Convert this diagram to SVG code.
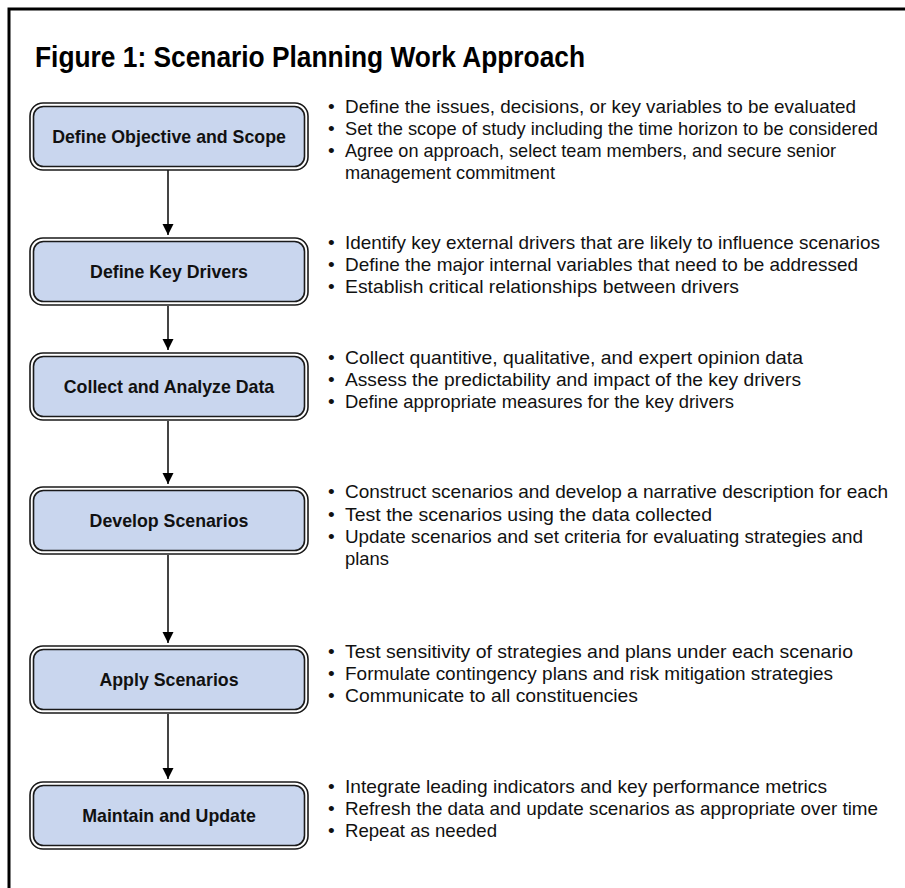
<svg xmlns="http://www.w3.org/2000/svg" width="905" height="888" viewBox="0 0 905 888">
<style>
.frame{fill:none;stroke:#000;stroke-width:3}
.title{font-family:"Liberation Sans","Arial",sans-serif;font-weight:bold;font-size:30px;fill:#000}
.bo{fill:#fff;stroke:#1a1a1a;stroke-width:1.6}
.bi{fill:#c9d6ee;stroke:#1a1a1a;stroke-width:1.6}
.lbl{font-family:"Liberation Sans","Arial",sans-serif;font-weight:bold;font-size:19px;fill:#111;text-anchor:middle}
.txt{font-family:"Liberation Sans","Arial",sans-serif;font-size:19px;fill:#111}
.conn{stroke:#444;stroke-width:2;fill:none}
</style>
<defs>
<marker id="ah" viewBox="0 0 10 10" refX="10" refY="5" markerWidth="5.5" markerHeight="6" markerUnits="strokeWidth" orient="auto"><path d="M0,0 L10,5 L0,10 z" fill="#000"/></marker>
</defs>
<rect x="0" y="0" width="905" height="888" fill="#fff"/>
<rect class="frame" x="9" y="9" width="910" height="900"/>
<text class="title" x="35" y="67" textLength="550" lengthAdjust="spacingAndGlyphs">Figure 1: Scenario Planning Work Approach</text>
<g id="connectors">
<line class="conn" x1="168" y1="170" x2="168" y2="235" marker-end="url(#ah)"/>
<line class="conn" x1="168" y1="306" x2="168" y2="350" marker-end="url(#ah)"/>
<line class="conn" x1="168" y1="421" x2="168" y2="484" marker-end="url(#ah)"/>
<line class="conn" x1="168" y1="555" x2="168" y2="643" marker-end="url(#ah)"/>
<line class="conn" x1="168" y1="714" x2="168" y2="779" marker-end="url(#ah)"/>
</g>
<g id="n1"><rect class="bo" x="30" y="103" width="278" height="67" rx="13"/><rect class="bi" x="33.5" y="106.5" width="271" height="60" rx="10"/><text class="lbl" transform="translate(169,143) scale(0.935,1)">Define Objective and Scope</text></g>
<g id="n2"><rect class="bo" x="30" y="238" width="278" height="67" rx="13"/><rect class="bi" x="33.5" y="241.5" width="271" height="60" rx="10"/><text class="lbl" transform="translate(169,278) scale(0.935,1)">Define Key Drivers</text></g>
<g id="n3"><rect class="bo" x="30" y="353" width="278" height="67" rx="13"/><rect class="bi" x="33.5" y="356.5" width="271" height="60" rx="10"/><text class="lbl" transform="translate(169,393) scale(0.935,1)">Collect and Analyze Data</text></g>
<g id="n4"><rect class="bo" x="30" y="487" width="278" height="67" rx="13"/><rect class="bi" x="33.5" y="490.5" width="271" height="60" rx="10"/><text class="lbl" transform="translate(169,527) scale(0.935,1)">Develop Scenarios</text></g>
<g id="n5"><rect class="bo" x="30" y="646" width="278" height="67" rx="13"/><rect class="bi" x="33.5" y="649.5" width="271" height="60" rx="10"/><text class="lbl" transform="translate(169,686) scale(0.935,1)">Apply Scenarios</text></g>
<g id="n6"><rect class="bo" x="30" y="782" width="278" height="67" rx="13"/><rect class="bi" x="33.5" y="785.5" width="271" height="60" rx="10"/><text class="lbl" transform="translate(169,822) scale(0.935,1)">Maintain and Update</text></g>
<g id="bullets" class="txt">
<text x="328" y="113">•</text><text x="345" y="113" textLength="511" lengthAdjust="spacingAndGlyphs">Define the issues, decisions, or key variables to be evaluated</text>
<text x="328" y="135">•</text><text x="345" y="135" textLength="533" lengthAdjust="spacingAndGlyphs">Set the scope of study including the time horizon to be considered</text>
<text x="328" y="157">•</text><text x="345" y="157" textLength="491" lengthAdjust="spacingAndGlyphs">Agree on approach, select team members, and secure senior</text>
<text x="345" y="179" textLength="210" lengthAdjust="spacingAndGlyphs">management commitment</text>
<text x="328" y="249">•</text><text x="345" y="249" textLength="535" lengthAdjust="spacingAndGlyphs">Identify key external drivers that are likely to influence scenarios</text>
<text x="328" y="271">•</text><text x="345" y="271" textLength="513" lengthAdjust="spacingAndGlyphs">Define the major internal variables that need to be addressed</text>
<text x="328" y="293">•</text><text x="345" y="293" textLength="394" lengthAdjust="spacingAndGlyphs">Establish critical relationships between drivers</text>
<text x="328" y="364">•</text><text x="345" y="364" textLength="458" lengthAdjust="spacingAndGlyphs">Collect quantitive, qualitative, and expert opinion data</text>
<text x="328" y="386">•</text><text x="345" y="386" textLength="456" lengthAdjust="spacingAndGlyphs">Assess the predictability and impact of the key drivers</text>
<text x="328" y="408">•</text><text x="345" y="408" textLength="389" lengthAdjust="spacingAndGlyphs">Define appropriate measures for the key drivers</text>
<text x="328" y="498">•</text><text x="345" y="498" textLength="543" lengthAdjust="spacingAndGlyphs">Construct scenarios and develop a narrative description for each</text>
<text x="328" y="521">•</text><text x="345" y="521" textLength="367" lengthAdjust="spacingAndGlyphs">Test the scenarios using the data collected</text>
<text x="328" y="543">•</text><text x="345" y="543" textLength="518" lengthAdjust="spacingAndGlyphs">Update scenarios and set criteria for evaluating strategies and</text>
<text x="345" y="565" textLength="44" lengthAdjust="spacingAndGlyphs">plans</text>
<text x="328" y="658">•</text><text x="345" y="658" textLength="508" lengthAdjust="spacingAndGlyphs">Test sensitivity of strategies and plans under each scenario</text>
<text x="328" y="680">•</text><text x="345" y="680" textLength="488" lengthAdjust="spacingAndGlyphs">Formulate contingency plans and risk mitigation strategies</text>
<text x="328" y="702">•</text><text x="345" y="702" textLength="293" lengthAdjust="spacingAndGlyphs">Communicate to all constituencies</text>
<text x="328" y="793">•</text><text x="345" y="793" textLength="482" lengthAdjust="spacingAndGlyphs">Integrate leading indicators and key performance metrics</text>
<text x="328" y="815">•</text><text x="345" y="815" textLength="533" lengthAdjust="spacingAndGlyphs">Refresh the data and update scenarios as appropriate over time</text>
<text x="328" y="837">•</text><text x="345" y="837" textLength="152" lengthAdjust="spacingAndGlyphs">Repeat as needed</text>
</g>
</svg>
